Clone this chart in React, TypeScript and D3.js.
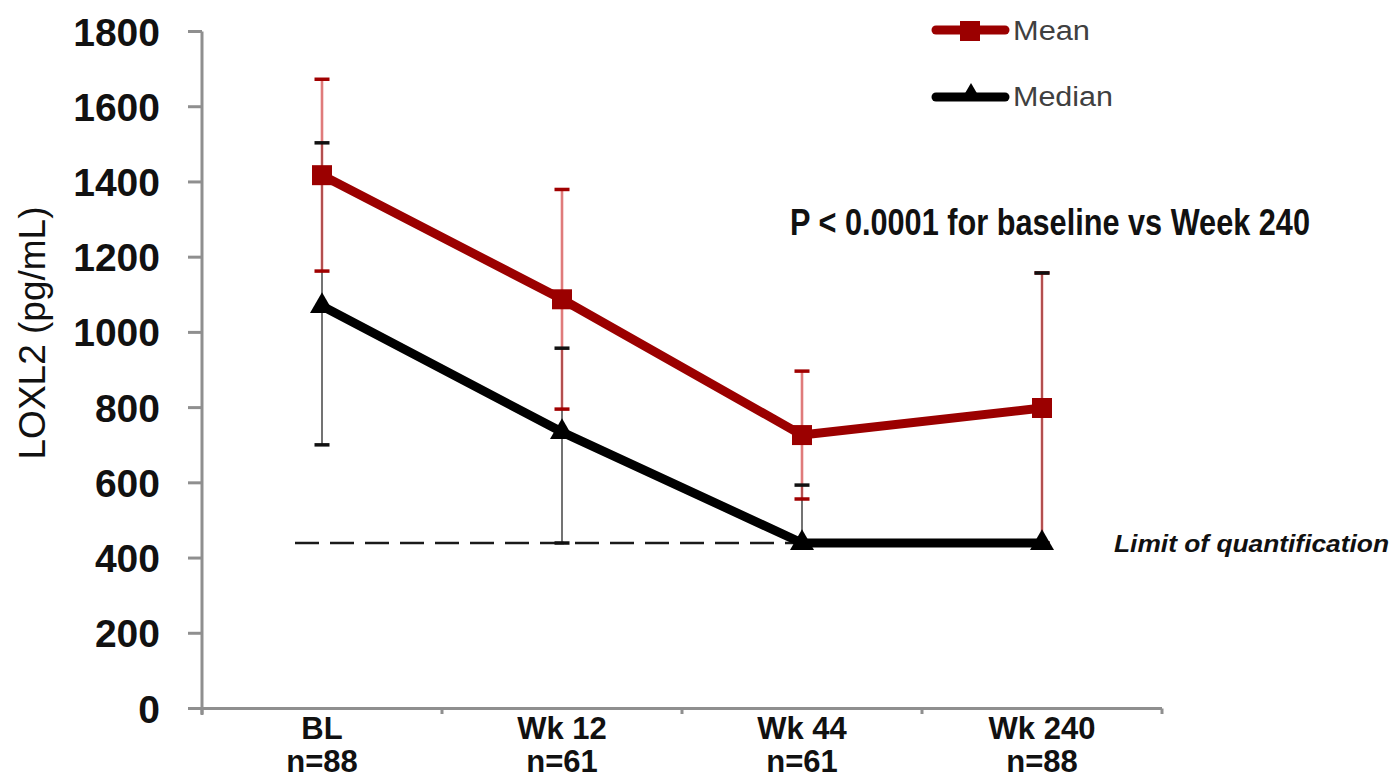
import React from "react";
import * as d3 from "d3";

const categories = ["BL", "Wk 12", "Wk 44", "Wk 240"];
const nLabels = ["n=88", "n=61", "n=61", "n=88"];
const meanValues = [1418, 1088, 727, 799];
const meanErr = [255, 292, 170, 359];
const medianValues = [1070, 735, 440, 440];
const medianLow = [701, 440, 440, 440];
const medianHigh = [1504, 958, 594, 1158];
const yTicks = [0, 200, 400, 600, 800, 1000, 1200, 1400, 1600, 1800];
const limitValue = 440;
const pText = "P < 0.0001 for baseline vs Week 240";
const limitText = "Limit of quantification";
const yLabel = "LOXL2 (pg/mL)";

const W = 1393;
const H = 780;
const FONT = "'Liberation Sans', Arial, sans-serif";
const RED = "#9b0000";

export default function App() {
  const x = d3.scaleBand<string>().domain(categories).range([202, 1162]).paddingInner(0).paddingOuter(0);
  const y = d3.scaleLinear().domain([0, 1800]).range([708.5, 31.5]);
  const cx = (c: string) => (x(c) as number) + x.bandwidth() / 2;

  const line = d3
    .line<number>()
    .x((_, i) => cx(categories[i]))
    .y((d) => y(d));

  const sq = d3.symbol(d3.symbolSquare, 400)();
  const tri = d3.symbol(d3.symbolTriangle, 250)();
  const triLeg = d3.symbol(d3.symbolTriangle, 190)();

  const capW = 7.5;

  return (
    <svg
      width={W}
      height={H}
      style={{ position: "absolute", left: 0, top: 0, display: "block", background: "#fff" }}
      fontFamily={FONT}
    >
      {/* axes */}
      <g stroke="#8f8f8f" strokeWidth={3} fill="none">
        <line x1={202} y1={y(1800)} x2={202} y2={715} />
        <line x1={202} y1={y(0)} x2={1162} y2={y(0)} />
        {yTicks.map((t) => (
          <line key={t} x1={188} x2={202} y1={y(t)} y2={y(t)} />
        ))}
        {[...categories.map((c) => x(c) as number), 1162].map((v, i) => (
          <line key={i} x1={v} x2={v} y1={y(0)} y2={714} />
        ))}
      </g>
      {yTicks.map((t) => (
        <text
          key={t}
          x={160}
          y={y(t)}
          dy="0.36em"
          textAnchor="end"
          fontWeight="bold"
          fontSize={39}
          fill="#111"
        >
          {t}
        </text>
      ))}
      <text
        transform={`translate(45, 333) rotate(-90)`}
        textAnchor="middle"
        fontSize={37}
        fill="#111"
      >
        {yLabel}
      </text>
      {categories.map((c, i) => (
        <g key={c} fontWeight="bold" fontSize={31} fill="#111" textAnchor="middle">
          <text x={cx(c)} y={739}>
            {c}
          </text>
          <text x={cx(c)} y={772}>
            {nLabels[i]}
          </text>
        </g>
      ))}

      {/* limit of quantification */}
      <line
        x1={295}
        x2={1040}
        y1={y(limitValue)}
        y2={y(limitValue)}
        stroke="#1a1a1a"
        strokeWidth={2.5}
        strokeDasharray="24,11"
      />
      <text
        x={1114}
        y={552}
        fontSize={23}
        fontWeight="bold"
        fontStyle="italic"
        fill="#111"
        textLength={275}
        lengthAdjust="spacingAndGlyphs"
      >
        {limitText}
      </text>

      {/* error bars */}
      {categories.map((c, i) => {
        const px = cx(c);
        const lo = meanValues[i] - meanErr[i];
        const hi = meanValues[i] + meanErr[i];
        return (
          <g key={c}>
            <line x1={px} x2={px} y1={y(medianLow[i])} y2={y(medianHigh[i])} stroke="#444" strokeOpacity={0.75} strokeWidth={2} />
            <line x1={px} x2={px} y1={y(lo)} y2={y(hi)} stroke="#e07070" strokeOpacity={0.55} strokeWidth={3} />
            <line x1={px} x2={px} y1={y(lo)} y2={y(hi)} stroke="#c00000" strokeOpacity={0.6} strokeWidth={1} />
            <line x1={px - capW} x2={px + capW} y1={y(hi)} y2={y(hi)} stroke="#a00000" strokeWidth={3.5} />
            <line x1={px - capW} x2={px + capW} y1={y(lo)} y2={y(lo)} stroke="#a00000" strokeWidth={3.5} />
            <line x1={px - capW} x2={px + capW} y1={y(medianHigh[i])} y2={y(medianHigh[i])} stroke="#111" strokeWidth={3.5} />
            <line x1={px - capW} x2={px + capW} y1={y(medianLow[i])} y2={y(medianLow[i])} stroke="#111" strokeWidth={3.5} />
          </g>
        );
      })}

      {/* series */}
      <path d={line(medianValues) || ""} fill="none" stroke="#000" strokeWidth={9} strokeLinejoin="round" />
      {categories.map((c, i) => (
        <path key={c} d={tri || ""} transform={`translate(${cx(c)},${y(medianValues[i])})`} fill="#000" />
      ))}
      <path d={line(meanValues) || ""} fill="none" stroke={RED} strokeWidth={9} strokeLinejoin="round" />
      {categories.map((c, i) => (
        <path key={c} d={sq || ""} transform={`translate(${cx(c)},${y(meanValues[i])})`} fill={RED} />
      ))}

      {/* annotation */}
      <text
        x={790}
        y={235}
        fontSize={37}
        fontWeight="bold"
        fill="#111"
        textLength={520}
        lengthAdjust="spacingAndGlyphs"
      >
        {pText}
      </text>

      {/* legend */}
      <g>
        <line x1={936} x2={1005} y1={30} y2={30} stroke={RED} strokeWidth={9} strokeLinecap="round" />
        <path d={sq || ""} transform="translate(970,31)" fill={RED} />
        <text x={1013} y={39.5} fontSize={27} fill="#404040" textLength={77} lengthAdjust="spacingAndGlyphs">
          Mean
        </text>
        <line x1={936} x2={1005} y1={97} y2={97} stroke="#000" strokeWidth={9} strokeLinecap="round" />
        <path d={triLeg || ""} transform="translate(971,95)" fill="#000" />
        <text x={1013} y={105.5} fontSize={27} fill="#404040" textLength={100} lengthAdjust="spacingAndGlyphs">
          Median
        </text>
      </g>
    </svg>
  );
}
